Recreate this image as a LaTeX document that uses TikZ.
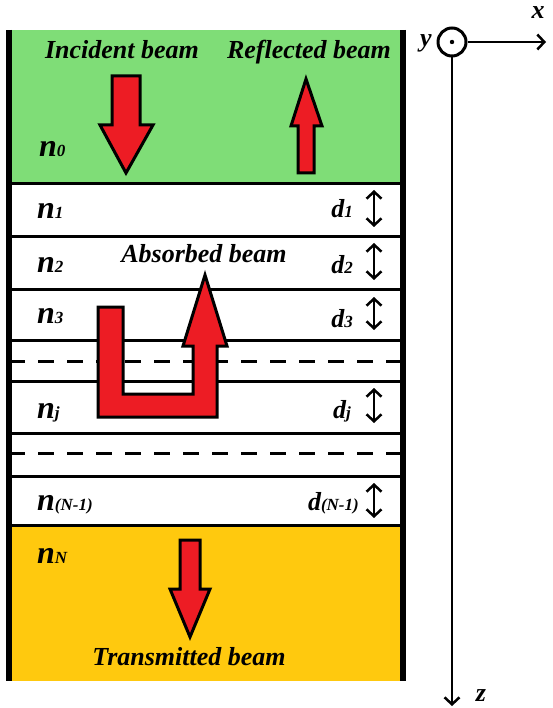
\documentclass[tikz,border=0pt]{standalone}
\usepackage{fontspec}
\setmainfont{Liberation Serif}
\usetikzlibrary{arrows.meta}
\definecolor{topgreen}{HTML}{7FDD77}
\definecolor{subgold}{HTML}{FFC90E}
\definecolor{beamred}{HTML}{ED1C24}
\newcommand{\nsym}[2]{{\fontsize{32}{32}\selectfont #1}{\fontsize{17}{17}\selectfont #2}}
\newcommand{\dsym}[2]{{\fontsize{26}{26}\selectfont #1}{\fontsize{17}{17}\selectfont #2}}
\tikzset{wall/.style={line width=6pt}, sep/.style={line width=3pt}, gap/.style={line width=3pt, dash pattern=on 16pt off 13pt}, beam/.style={draw=black, fill=beamred, line width=3pt, line join=miter}, lab/.style={font=\fontsize{26}{28}\selectfont\bfseries\itshape, inner sep=0pt}, idx/.style={font=\bfseries\itshape, inner sep=0pt, anchor=base west}, didx/.style={font=\bfseries\itshape, inner sep=0pt, anchor=base east}, thk/.style={line width=2.5pt, {Straight Barb[length=7pt,width=15pt]}-{Straight Barb[length=7pt,width=15pt]}}, axis/.style={line width=2.5pt, -{Straight Barb[length=7pt,width=15pt]}}}

\begin{document}
\begin{tikzpicture}[x=1pt,y=-1pt]
\useasboundingbox (0,0) rectangle (552,708);
% media
\fill[topgreen] (9,30) rectangle (403,184);
\fill[white] (9,184) rectangle (403,525);
\fill[subgold] (9,525) rectangle (403,681);
\foreach \yy in {184,237,289,340,381,433,476,525} \draw[sep] (9,\yy) -- (403,\yy);
\foreach \yy in {361,453} \draw[gap] (9,\yy) -- (403,\yy);
\draw[wall] (9,30) -- (9,681); \draw[wall] (403,30) -- (403,681);
% beams
\draw[beam] (112,76) -- (140,76) -- (140,125) -- (153,125) -- (126,173) -- (100,125) -- (112,125) -- cycle;
\draw[beam] (298,173) -- (314,173) -- (314,126) -- (322,126) -- (306,79) -- (291,126) -- (298,126) -- cycle;
\draw[beam] (98,307) -- (123,307) -- (123,394) -- (193,394) -- (193,346) -- (183,346) -- (205,275) -- (227,346) -- (217,346) -- (217,417) -- (98,417) -- cycle;
\draw[beam] (180,540) -- (200,540) -- (200,589) -- (210,589) -- (190,637) -- (170,589) -- (180,589) -- cycle;
\node[lab, anchor=base] (inc) at (122,59) {Incident beam};
\node[lab, anchor=base] (refl) at (309,59) {Reflected beam};
\node[lab, anchor=base] (abs) at (204,262) {Absorbed beam};
\node[lab, anchor=base] (trans) at (189,665) {Transmitted beam};
% indices and thicknesses
\node[idx] (n0) at (39,157) {\nsym{n}{0}};
\node[idx] (n1) at (37,219) {\nsym{n}{1}};
\node[idx] (n2) at (37,272) {\nsym{n}{2}};
\node[idx] (n3) at (37,323) {\nsym{n}{3}};
\node[idx] (nj) at (37,418) {\nsym{n}{j}};
\node[idx] (nNm) at (37,510) {\nsym{n}{(N-1)}};
\node[idx] (nN) at (37,563) {\nsym{n}{N}};
\node[didx] (d1) at (353,218) {\dsym{d}{1}};
\node[didx] (d2) at (353,273) {\dsym{d}{2}};
\node[didx] (d3) at (353,327) {\dsym{d}{3}};
\node[didx] (dj) at (351,418) {\dsym{d}{j}};
\node[didx] (dNm) at (359,510) {\dsym{d}{(N-1)}};
\foreach \ya/\yb in {190/227,243/280,297/330,388/423,483/518} \draw[thk] (374,\ya) -- (374,\yb);
% axes
\node[circle, draw, line width=3pt, minimum size=28pt, inner sep=0pt] (ycirc) at (452,42) {};
\fill (ycirc.center) circle (2.2pt);
\coordinate (xend) at (546,42);
\coordinate (zend) at (452,706);
\draw[axis] (ycirc) -- (xend);
\draw[axis] (ycirc) -- (zend);
\node[lab] (xl) at (538,13) {x};
\node[lab] (yl) at (426,43) {y};
\node[lab] (zl) at (481,696) {z};
\end{tikzpicture}
\end{document}
